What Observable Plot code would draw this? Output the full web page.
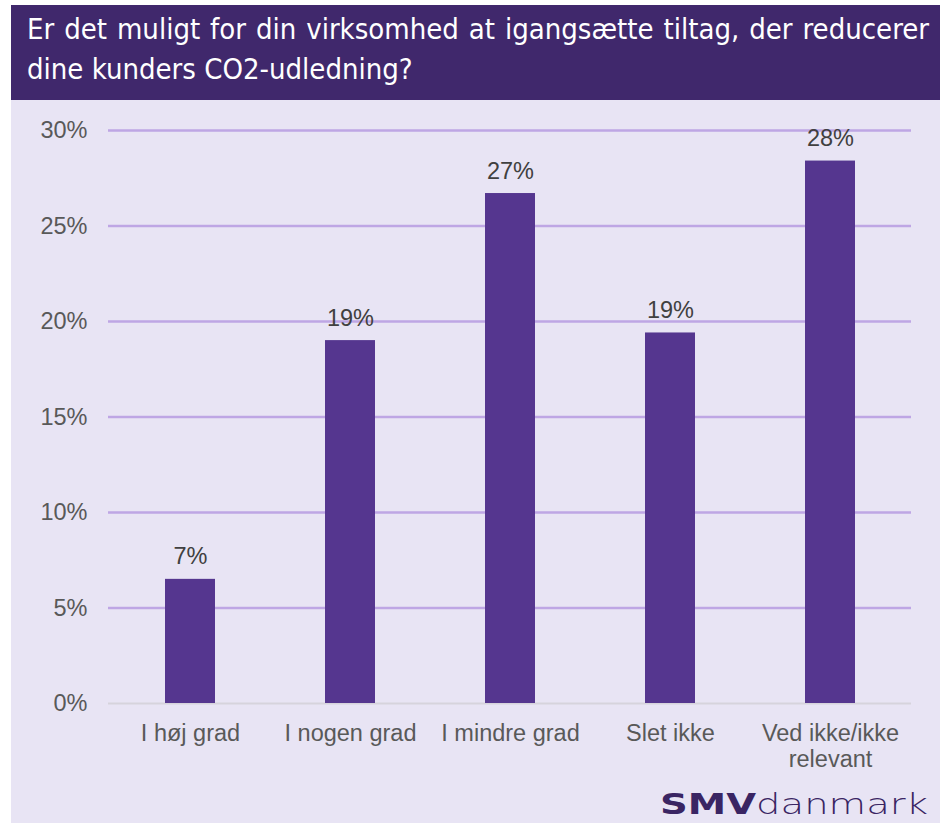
<!DOCTYPE html>
<html><head><meta charset="utf-8">
<script src="https://cdn.jsdelivr.net/npm/d3@7"></script>
<script src="https://cdn.jsdelivr.net/npm/@observablehq/plot@0.6"></script>
<style>
html,body{margin:0;padding:0;background:#fff;}
#wrap{position:relative;width:945px;height:823px;overflow:hidden;}
#head{position:absolute;left:11px;top:5px;width:929px;height:95px;background:#40286C;}
#title{position:absolute;left:16px;top:4px;width:902px;color:#fff;font-family:"Liberation Sans Narrow","DejaVu Sans Condensed",sans-serif;font-size:29px;line-height:40px;}
#title .l1{text-align:justify;text-align-last:justify;}
#bg{position:absolute;left:11px;top:100px;width:929px;height:723px;background:#E8E4F4;}
#chart{position:absolute;left:11px;top:100px;}
#logo{position:absolute;left:660px;top:787px;color:#3A2563;font-family:"DejaVu Sans",sans-serif;font-size:29px;white-space:nowrap;transform-origin:0 0;}
#logo b{font-weight:bold;}
#logo span{font-weight:300;font-family:"DejaVu Sans","Noto Sans",sans-serif;}
</style></head>
<body>
<div id="wrap">
  <div id="head"><div id="title"><div class="l1">Er det muligt for din virksomhed at igangsætte tiltag, der reducerer</div><div>dine kunders CO2-udledning?</div></div></div>
  <div id="bg"></div>
  <div id="chart"></div>
  <div id="logo"><b>SMV</b><span>danmark</span></div>
</div>
<script>
const categories = ["I høj grad", "I nogen grad", "I mindre grad", "Slet ikke", "Ved ikke/ikke relevant"];
const tickLabels = ["I høj grad", "I nogen grad", "I mindre grad", "Slet ikke", "Ved ikke/ikke\nrelevant"];
const values = [6.5, 19.0, 26.7, 19.4, 28.4];
const yTicks = [0, 5, 10, 15, 20, 25, 30];

const data = categories.map((c, i) => ({cat: c, v: values[i]}));
const labelOf = new Map(categories.map((c, i) => [c, tickLabels[i]]));

const chart = Plot.plot({
  width: 929,
  height: 690,
  marginLeft: 97,
  marginRight: 29,
  marginTop: 30,
  marginBottom: 87,
  style: {background: "transparent", fontFamily: "'Liberation Sans', Arial, sans-serif", fontSize: "23.5px"},
  x: {domain: categories, paddingInner: 0.69, paddingOuter: 0.345, label: null},
  y: {domain: [0, 30], label: null},
  marks: [
    Plot.ruleY(yTicks.filter(d => d > 0), {stroke: "#BEA6E4", strokeWidth: 2.5}),
    Plot.ruleY([0], {stroke: "#D6D3DC", strokeWidth: 2}),
    Plot.barY(data, {x: "cat", y: "v", fill: "#55368F"}),
    Plot.text(data, {x: "cat", y: "v", text: d => Math.round(d.v) + "%", lineAnchor: "bottom", dy: -15, fill: "#404040", fontSize: 23.5}),
    Plot.axisY({ticks: yTicks, tickFormat: d => d + "%", tickSize: 0, tickPadding: 21, fill: "#595959", fontSize: 23.5, label: null}),
    Plot.axisX({tickFormat: d => labelOf.get(d), tickSize: 0, tickPadding: 19, fill: "#595959", fontSize: 23.5, lineHeight: 1.1, label: null})
  ]
});
document.getElementById("chart").appendChild(chart);

// fit logo width
const logo = document.getElementById("logo");
const w = logo.getBoundingClientRect().width;
logo.style.transform = `scaleX(${268 / w})`;
</script>
</body></html>
